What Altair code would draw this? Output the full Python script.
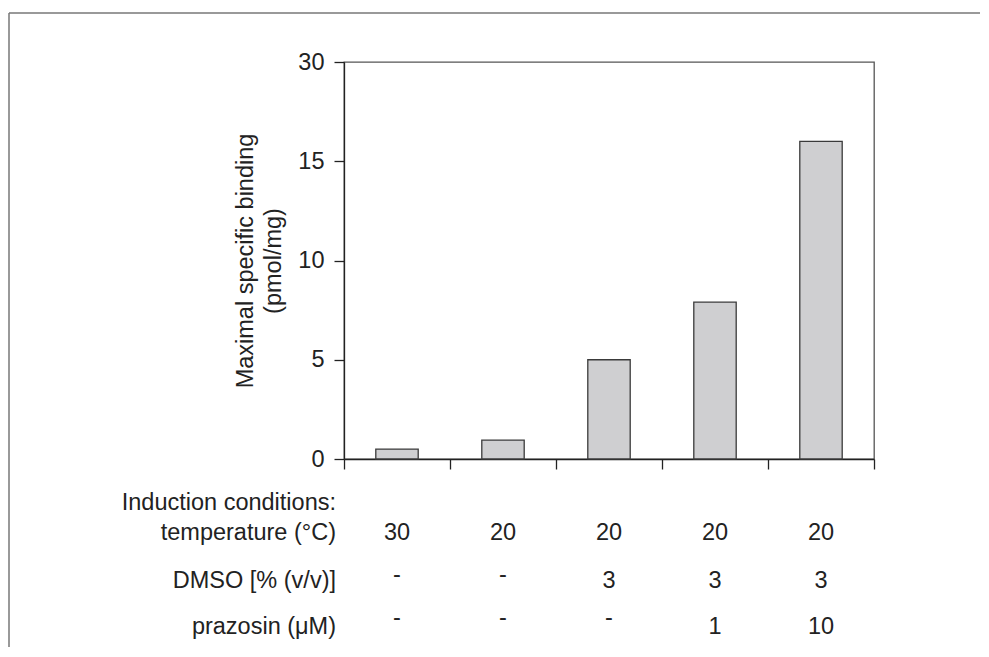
import altair as alt
import pandas as pd

# ---- data ----
conditions = ["A", "B", "C", "D", "E"]
binding = [0.5, 0.95, 5.0, 7.9, 16.0]           # pmol/mg (on the drawn 0-20 scale)
temperature = ["30", "20", "20", "20", "20"]
dmso = ["-", "-", "3", "3", "3"]
prazosin = ["-", "-", "-", "1", "10"]
y_tick_values = [0, 5, 10, 15, 20]
y_tick_labels = ["0", "5", "10", "15", "30"]
row_labels = ["Induction conditions:", "temperature (\u00b0C)", "DMSO [% (v/v)]", "prazosin (\u03bcM)"]

FONT = "Liberation Sans"
FS = 23.5
INK = "#222222"

n = len(conditions)
bars = pd.DataFrame({
    "cond": conditions,
    "x0": [i + 0.3 for i in range(n)],
    "x1": [i + 0.7 for i in range(n)],
    "xc": [i + 0.5 for i in range(n)],
    "value": binding,
    "temp": temperature,
    "dmso": dmso,
    "praz": prazosin,
})

label_expr = " : ".join(
    [f"datum.value == {v} ? '{l}'" for v, l in zip(y_tick_values, y_tick_labels)] + ["datum.label"]
)

xscale = alt.Scale(domain=[0, n], nice=False, zero=False)
yscale = alt.Scale(domain=[0, 20], nice=False)

base = alt.Chart(bars)

bar_layer = base.mark_bar(fill="#cfcfd1", stroke="#3a3a3a", strokeWidth=1.3).encode(
    x=alt.X("x0:Q", scale=xscale,
            axis=alt.Axis(values=list(range(n + 1)), labels=False, title=None, grid=False,
                          tickSize=10, domainColor=INK, tickColor=INK, domainWidth=1.3, tickWidth=1.3)),
    x2="x1:Q",
    y=alt.Y("value:Q", scale=yscale,
            axis=alt.Axis(values=y_tick_values, labelExpr=label_expr, grid=False,
                          title=["Maximal specific binding", "(pmol/mg)"],
                          titleFont=FONT, titleFontSize=FS, titleFontWeight="normal", titleColor=INK,
                          titlePadding=12, titleLineHeight=28,
                          labelFont=FONT, labelFontSize=FS, labelColor=INK, labelPadding=10,
                          tickSize=10, domainColor=INK, tickColor=INK, domainWidth=1.3, tickWidth=1.3)),
    y2=alt.datum(0),
)

row_y = [448, 478, 526, 572]
dash_dy = {"temp": 0, "dmso": -6, "praz": -9}

def value_row(field, yv):
    words = base.transform_filter(f"datum.{field} != '-'").mark_text(
        font=FONT, fontSize=FS, color=INK, align="center", baseline="alphabetic"
    ).encode(x=alt.X("xc:Q", scale=xscale), y=alt.value(yv), text=f"{field}:N")
    dashes = base.transform_filter(f"datum.{field} == '-'").mark_text(
        font=FONT, fontSize=FS, color=INK, align="center", baseline="alphabetic", dy=dash_dy[field]
    ).encode(x=alt.X("xc:Q", scale=xscale), y=alt.value(yv), text=f"{field}:N")
    return [words, dashes]

labels_df = pd.DataFrame({"label": row_labels, "row": list(range(len(row_labels)))})
label_layers = []
for i, lab in enumerate(row_labels):
    label_layers.append(
        alt.Chart(labels_df[labels_df["row"] == i]).mark_text(
            font=FONT, fontSize=FS, color=INK, align="right", baseline="alphabetic"
        ).encode(x=alt.value(-8), y=alt.value(row_y[i]), text="label:N")
    )

# frame of the original figure (top and left edges)
frame_top = alt.Chart(labels_df.head(1)).mark_rule(color="#777777", strokeWidth=1.5).encode(
    x=alt.value(-335), x2=alt.value(636), y=alt.value(-49)
)
frame_left = alt.Chart(labels_df.head(1)).mark_rule(color="#777777", strokeWidth=1.5).encode(
    x=alt.value(-335), y=alt.value(-49), y2=alt.value(585)
)

chart = alt.layer(
    frame_top, frame_left, bar_layer,
    *value_row("temp", row_y[1]), *value_row("dmso", row_y[2]), *value_row("praz", row_y[3]),
    *label_layers,
).properties(
    width=530, height=397,
    padding={"left": 0, "top": 4, "right": 0, "bottom": 0},
).configure_view(stroke="#555555", strokeWidth=1.3)

chart.save("out.html", embed_options={"renderer": "svg", "actions": False})
